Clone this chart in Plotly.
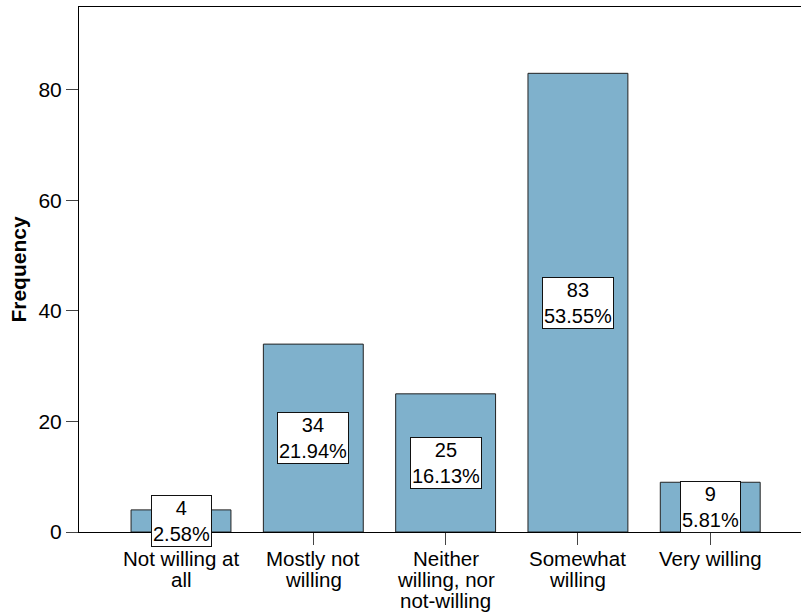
import plotly.graph_objects as go

categories = ["Not willing at\nall", "Mostly not\nwilling", "Neither\nwilling, nor\nnot-willing",
              "Somewhat\nwilling", "Very willing"]
counts = [4, 34, 25, 83, 9]
y_ticks = [0, 20, 40, 60, 80]

total = sum(counts)
x_pos = list(range(len(categories)))
FONT = "Liberation Sans, Arial"

fig = go.Figure()
fig.add_trace(go.Bar(
    x=x_pos, y=counts, width=0.755,
    marker=dict(color="#7fb1cc", line=dict(color="#222222", width=1)),
    hoverinfo="skip",
))

# count / percentage boxes, centred halfway up each bar
for xi, c in zip(x_pos, counts):
    fig.add_annotation(
        x=xi, y=c / 2, xref="x", yref="y",
        text=f"{c}<br>{c / total * 100:.2f}%",
        showarrow=False, bgcolor="white", bordercolor="#111111", borderwidth=1, borderpad=1,
        font=dict(size=20, color="black", family=FONT),
        align="center",
    )

# category labels, one line at a time for tight line spacing
for xi, label in zip(x_pos, categories):
    for i, line in enumerate(label.split("\n")):
        fig.add_annotation(
            x=xi, y=0, xref="x", yref="y", yanchor="top",
            yshift=-14 - 20.8 * i, text=line, showarrow=False, borderpad=0,
            font=dict(size=20.5, color="black", family=FONT),
        )

fig.update_layout(
    width=801, height=612,
    margin=dict(l=79, r=0, t=7, b=80),
    plot_bgcolor="white", paper_bgcolor="white",
    showlegend=False,
    font=dict(family=FONT, color="black"),
    xaxis=dict(
        range=[-0.771, 4.686], tickmode="array", tickvals=x_pos, showticklabels=False,
        ticks="outside", ticklen=12, tickcolor="#444444", tickwidth=1,
        showline=True, linecolor="black", linewidth=1, mirror=True,
        showgrid=False, zeroline=False, automargin=False,
    ),
    yaxis=dict(
        range=[0, 95], tickmode="array", tickvals=y_ticks,
        ticks="outside", ticklen=12, tickcolor="#444444", tickwidth=1,
        showline=True, linecolor="black", linewidth=1,
        showgrid=False, zeroline=False, tickfont=dict(size=21), automargin=False,
        title=dict(text="<b>Frequency</b>", font=dict(size=21), standoff=6),
    ),
)

fig.write_html("out.html")
